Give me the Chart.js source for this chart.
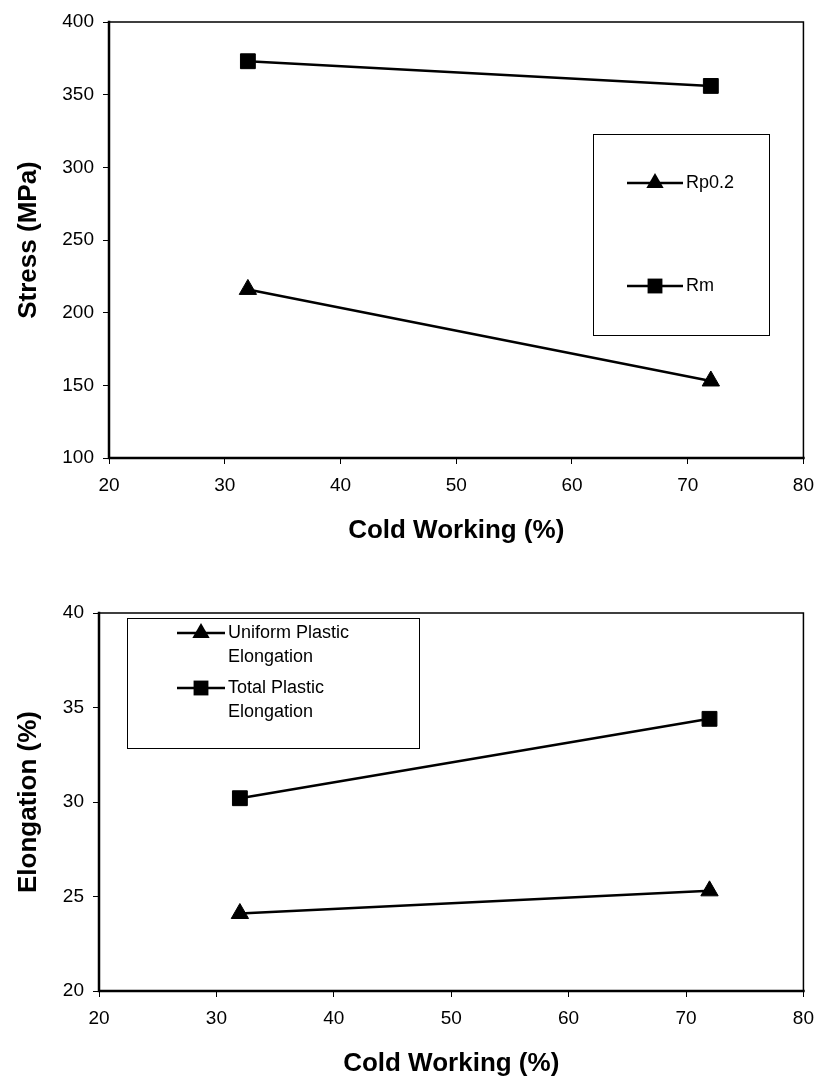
<!DOCTYPE html>
<html>
<head>
<meta charset="utf-8">
<script src="https://cdn.jsdelivr.net/npm/chart.js@4.4.1/dist/chart.umd.min.js"></script>
<style>
  body { margin: 0; background: #fff; }
  #wrap { position: relative; width: 824px; height: 1083px; }
  canvas { position: absolute; left: 0; }
</style>
</head>
<body>
<div id="wrap">
  <canvas id="stressChart" width="824" height="560" style="top:0px"></canvas>
  <canvas id="elongChart" width="824" height="523" style="top:560px"></canvas>
</div>
<script>
// cold working levels (%)
var coldWork = [32, 72];

// stress (MPa)
var rp02 = [216, 153];
var rm = [373, 356];

// elongation (%)
var uniformEl = [24.1, 25.3];
var totalEl = [30.2, 34.4];

var xTicks = [20, 30, 40, 50, 60, 70, 80];
var stressTicks = [100, 150, 200, 250, 300, 350, 400];
var elongTicks = [20, 25, 30, 35, 40];

var FONT = "'Liberation Sans', Arial, sans-serif";

function points(xs, ys) {
  return xs.map(function (x, i) { return { x: x, y: ys[i] }; });
}

function marker(ctx, style, r, x, y) {
  ctx.beginPath();
  if (style === 'triangle') {
    ctx.moveTo(x, y - r);
    ctx.lineTo(x + r * Math.sqrt(3) / 2, y + r / 2);
    ctx.lineTo(x - r * Math.sqrt(3) / 2, y + r / 2);
  } else {
    var h = r / Math.SQRT2;
    ctx.rect(x - h, y - h, 2 * h, 2 * h);
  }
  ctx.closePath();
  ctx.fill();
}

// frame around the plot area plus the boxed key
var frameAndKey = {
  id: 'frameAndKey',
  afterDatasetsDraw: function (chart, args, opts) {
    var ctx = chart.ctx, a = chart.chartArea;
    ctx.save();
    ctx.strokeStyle = '#000';
    ctx.fillStyle = '#000';
    ctx.lineCap = 'square';

    // heavier left/bottom, lighter top/right
    ctx.lineWidth = 1.5;
    ctx.beginPath();
    ctx.moveTo(a.left, a.top);
    ctx.lineTo(a.right, a.top);
    ctx.lineTo(a.right, a.bottom);
    ctx.stroke();
    ctx.lineWidth = 2.5;
    ctx.beginPath();
    ctx.moveTo(a.left, a.top);
    ctx.lineTo(a.left, a.bottom);
    ctx.lineTo(a.right, a.bottom);
    ctx.stroke();

    var b = opts.box;
    ctx.lineWidth = 1;
    ctx.lineCap = 'butt';
    ctx.strokeRect(b.x + 0.5, b.y + 0.5, b.w, b.h);

    ctx.font = '18px ' + FONT;
    ctx.textBaseline = 'middle';
    ctx.textAlign = 'left';
    chart.data.datasets.forEach(function (ds, i) {
      var y = opts.rows[i];
      ctx.lineWidth = 2.5;
      ctx.beginPath();
      ctx.moveTo(opts.lineX[0], y);
      ctx.lineTo(opts.lineX[1], y);
      ctx.stroke();
      marker(ctx, ds.pointStyle, ds.pointRadius, (opts.lineX[0] + opts.lineX[1]) / 2, y);
      ds.label.split('\n').forEach(function (line, j) {
        ctx.fillText(line, opts.textX, y + j * 24);
      });
    });
    ctx.restore();
  }
};

function series(label, xs, ys, style, radius) {
  return {
    label: label,
    data: points(xs, ys),
    showLine: true,
    borderColor: '#000',
    borderWidth: 2.5,
    pointStyle: style,
    pointRadius: radius,
    pointBackgroundColor: '#000',
    pointBorderColor: '#000',
    pointBorderWidth: 1
  };
}

function axis(min, max, step, title, titlePad, fitSize, isX) {
  return {
    type: 'linear',
    min: min,
    max: max,
    border: { display: false },
    grid: { drawOnChartArea: false, drawTicks: true, tickLength: 6, color: '#000', lineWidth: 1 },
    ticks: {
      stepSize: step,
      color: '#000',
      padding: isX ? 10 : 9,
      font: { family: FONT, size: 19 }
    },
    title: {
      display: true,
      text: title,
      color: '#000',
      font: { family: FONT, size: 26, weight: 'bold' },
      padding: titlePad
    },
    afterFit: function (s) {
      if (isX) s.height = fitSize; else s.width = fitSize;
    }
  };
}

new Chart(document.getElementById('stressChart'), {
  type: 'scatter',
  data: {
    datasets: [
      series('Rp0.2', coldWork, rp02, 'triangle', 10),
      series('Rm', coldWork, rm, 'rect', 10.5)
    ]
  },
  options: {
    responsive: false,
    animation: false,
    layout: { padding: { top: 22, right: 17, left: 0, bottom: 0 } },
    scales: {
      x: axis(xTicks[0], xTicks[xTicks.length - 1], 10, 'Cold Working (%)', { top: 0, bottom: 14 }, 102, true),
      y: axis(stressTicks[0], stressTicks[stressTicks.length - 1], 50, 'Stress (MPa)', { top: 13, bottom: 0 }, 109, false)
    },
    plugins: {
      legend: { display: false },
      tooltip: { enabled: false },
      frameAndKey: {
        box: { x: 593, y: 134, w: 176, h: 201 },
        rows: [183, 286],
        lineX: [627, 683],
        textX: 686
      }
    }
  },
  plugins: [frameAndKey]
});

new Chart(document.getElementById('elongChart'), {
  type: 'scatter',
  data: {
    datasets: [
      series('Uniform Plastic\nElongation', coldWork, uniformEl, 'triangle', 10),
      series('Total Plastic\nElongation', coldWork, totalEl, 'rect', 10.5)
    ]
  },
  options: {
    responsive: false,
    animation: false,
    layout: { padding: { top: 53, right: 20, left: 0, bottom: 0 } },
    scales: {
      x: axis(xTicks[0], xTicks[xTicks.length - 1], 10, 'Cold Working (%)', { top: 0, bottom: 4 }, 92, true),
      y: axis(elongTicks[0], elongTicks[elongTicks.length - 1], 5, 'Elongation (%)', { top: 13, bottom: 0 }, 99, false)
    },
    plugins: {
      legend: { display: false },
      tooltip: { enabled: false },
      frameAndKey: {
        box: { x: 127, y: 58, w: 292, h: 130 },
        rows: [73, 128],
        lineX: [177, 225],
        textX: 228
      }
    }
  },
  plugins: [frameAndKey]
});
</script>
</body>
</html>
